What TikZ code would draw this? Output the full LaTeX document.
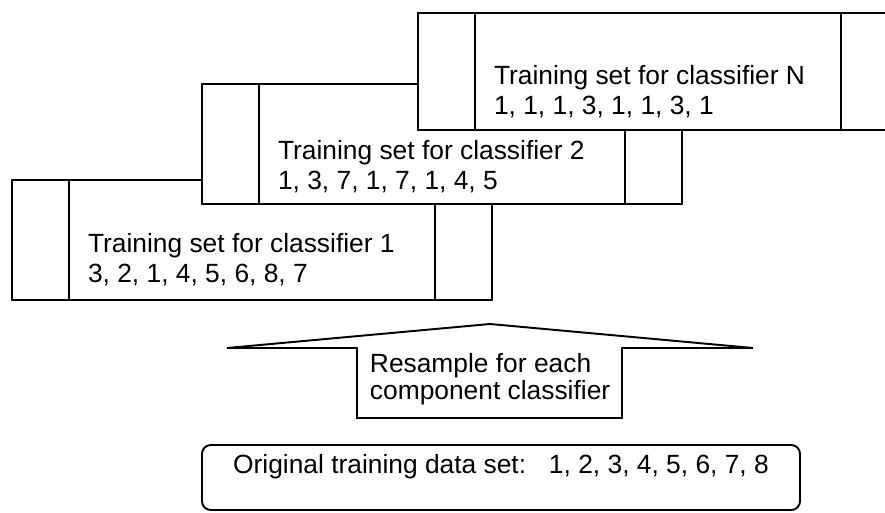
\documentclass[tikz,border=0pt]{standalone}
\usepackage{fontspec}
\setmainfont{Liberation Sans}

\begin{document}
\begin{tikzpicture}[
    line width=1.1pt,
    setbox/.style={
        draw,
        fill=white,
        minimum width=9.6cm,
        minimum height=2.4cm,
        inner sep=0pt
    },
    settext/.style={
        anchor=base west,
        align=left,
        inner sep=0pt,
        font=\fontsize{15}{17.07}\selectfont
    },
    origbox/.style={
        draw,
        rounded corners=5pt,
        minimum width=11.96cm,
        inner sep=0pt,
        text height=16.5pt,
        text depth=20.5pt,
        font=\fontsize{15}{18}\selectfont
    }
]
    \clip (0,0) rectangle (17.7,10.24);

    % training sets, back to front (base = last line)
    \node[setbox] (set1) at (5.04,5.44) {};
    \draw ([xshift=1.16cm]set1.north west) -- ([xshift=1.16cm]set1.south west);
    \draw ([xshift=-1.16cm]set1.north east) -- ([xshift=-1.16cm]set1.south east);
    \node[settext] (items1) at ([xshift=1.52cm,yshift=-2.06cm]set1.north west)
        {Training set for classifier 1\\3, 2, 1, 4, 5, 6, 8, 7};

    \node[setbox] (set2) at (8.84,7.36) {};
    \draw ([xshift=1.16cm]set2.north west) -- ([xshift=1.16cm]set2.south west);
    \draw ([xshift=-1.16cm]set2.north east) -- ([xshift=-1.16cm]set2.south east);
    \node[settext] (items2) at ([xshift=1.52cm,yshift=-2.12cm]set2.north west)
        {Training set for classifier 2\\1, 3, 7, 1, 7, 1, 4, 5};

    \node[setbox,minimum height=2.34cm] (setN) at (13.16,8.81) {};
    \draw ([xshift=1.16cm]setN.north west) -- ([xshift=1.16cm]setN.south west);
    \draw ([xshift=-1.16cm]setN.north east) -- ([xshift=-1.16cm]setN.south east);
    \node[settext] (itemsN) at ([xshift=1.52cm,yshift=-2.04cm]setN.north west)
        {Training set for classifier N\\1, 1, 1, 3, 1, 1, 3, 1};

    % resampling arrow
    \draw[fill=white] (4.54,3.28) -- (9.80,3.76) -- (15.06,3.28) -- (12.44,3.28)
        -- (12.44,1.88) -- (7.14,1.88) -- (7.14,3.28) -- cycle;
    \node[anchor=base west, align=left, inner sep=0pt,
          font=\fontsize{15}{14.8}\selectfont] (resample) at (7.38,2.26)
        {Resample for each\\component classifier};

    % original data
    \node[origbox] (orig) at (10.02,0.69)
        {Original training data set:\hspace{13pt}1, 2, 3, 4, 5, 6, 7, 8};
\end{tikzpicture}
\end{document}
